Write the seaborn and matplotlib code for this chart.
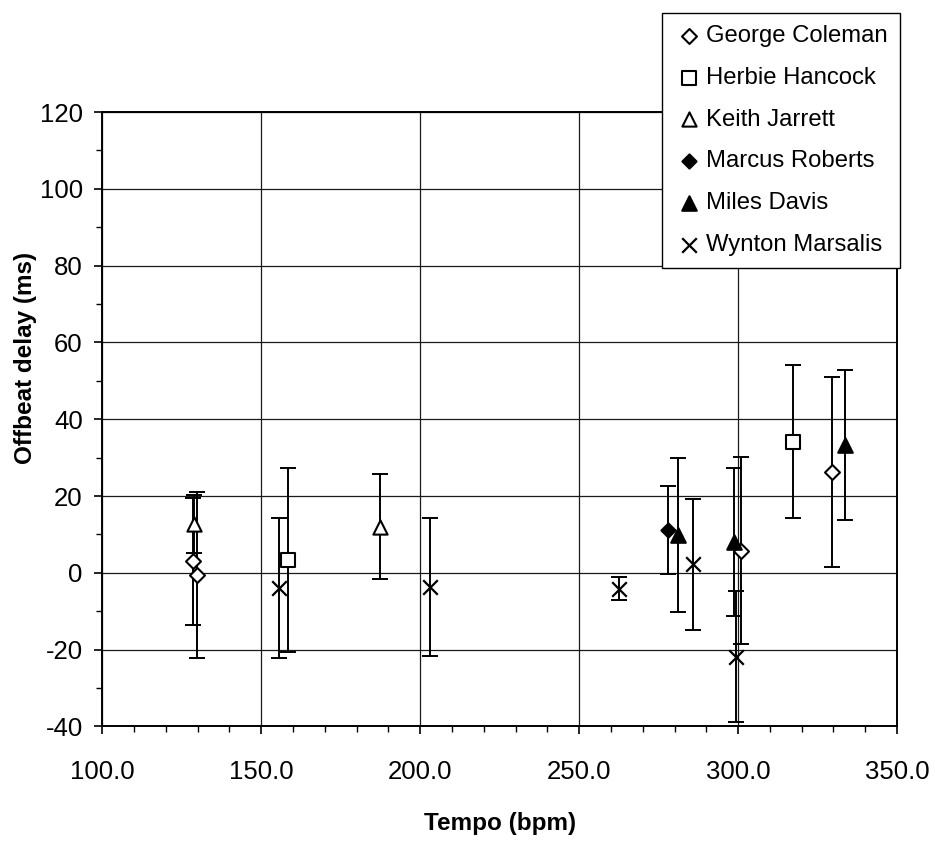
import numpy as np
import pandas as pd
import matplotlib
matplotlib.use("Agg")
import matplotlib.pyplot as plt
from matplotlib.ticker import MultipleLocator, FormatStrFormatter
import seaborn as sns

# Offbeat delay (mean ± SD) per recording, by performer
performer = [
    "George Coleman", "George Coleman", "George Coleman", "George Coleman",
    "Herbie Hancock", "Herbie Hancock",
    "Keith Jarrett", "Keith Jarrett",
    "Marcus Roberts",
    "Miles Davis", "Miles Davis", "Miles Davis",
    "Wynton Marsalis", "Wynton Marsalis", "Wynton Marsalis",
    "Wynton Marsalis", "Wynton Marsalis",
]
tempo = [128.4, 129.8, 301.0, 329.6,
         158.3, 317.3,
         128.9, 187.3,
         277.8,
         281.1, 298.6, 333.6,
         155.6, 203.0, 262.6, 285.8, 299.2]
delay = [3.0, -0.5, 5.8, 26.3,
         3.3, 34.2,
         12.7, 12.0,
         11.2,
         9.8, 8.0, 33.3,
         -3.9, -3.6, -4.1, 2.2, -21.8]
sd = [16.5, 21.6, 24.4, 24.7,
      23.9, 19.9,
      7.5, 13.7,
      11.4,
      20.1, 19.3, 19.5,
      18.2, 18.0, 2.9, 17.0, 17.0]

performers = ["George Coleman", "Herbie Hancock", "Keith Jarrett",
              "Marcus Roberts", "Miles Davis", "Wynton Marsalis"]
x_ticks = [100, 150, 200, 250, 300, 350]
y_ticks = [-40, -20, 0, 20, 40, 60, 80, 100, 120]

df = pd.DataFrame({"performer": performer, "tempo": tempo,
                   "delay": delay, "sd": sd})

sns.set_theme(style="ticks")
plt.rcParams["font.family"] = ["Liberation Sans", "DejaVu Sans"]
plt.rcParams["axes.unicode_minus"] = False
plt.rcParams["text.color"] = "black"

fig = plt.figure(figsize=(9.35, 8.46), dpi=100)
ax = fig.add_axes([0.1094, 0.1413, 0.8500, 0.7263])

# error bars first, markers on top
ax.errorbar(df["tempo"], df["delay"], yerr=df["sd"], fmt="none",
            ecolor="black", elinewidth=1.4, capsize=5.5, capthick=1.4,
            zorder=2)

# marker, face colour, size (pt^2)
marker_style = {
    "George Coleman": ("D", "white", 58),
    "Herbie Hancock": ("s", "white", 115),
    "Keith Jarrett": ("^", "white", 105),
    "Marcus Roberts": ("D", "black", 52),
    "Miles Davis": ("^", "black", 110),
    "Wynton Marsalis": ("x", "black", 110),
}

for name in performers:
    sub = df[df["performer"] == name]
    m, fc, s = marker_style[name]
    if m == "x":
        sns.scatterplot(data=sub, x="tempo", y="delay", marker=m,
                        color="black", s=s, linewidth=1.6, label=name,
                        ax=ax, zorder=3, legend=False)
    else:
        sns.scatterplot(data=sub, x="tempo", y="delay", marker=m,
                        color=fc, edgecolor="black", s=s, linewidth=1.5,
                        label=name, ax=ax, zorder=3, legend=False)

ax.set_xlim(100, 350)
ax.set_ylim(-40, 120)
ax.set_xticks(x_ticks)
ax.set_yticks(y_ticks)
ax.xaxis.set_minor_locator(MultipleLocator(10))
ax.yaxis.set_minor_locator(MultipleLocator(10))
ax.xaxis.set_major_formatter(FormatStrFormatter("%.1f"))
ax.yaxis.set_major_formatter(FormatStrFormatter("%d"))

ax.grid(True, which="major", color="#1a1a1a", linewidth=0.9)
ax.set_axisbelow(True)

for side in ["left", "bottom", "right", "top"]:
    ax.spines[side].set_visible(True)
    ax.spines[side].set_color("black")
    ax.spines[side].set_linewidth(1.4)

ax.tick_params(axis="both", which="major", direction="out", length=6,
               width=1.2, color="black", labelsize=18.5, labelcolor="black")
ax.tick_params(axis="both", which="minor", direction="out", length=4.5,
               width=1.0, color="black")
ax.tick_params(axis="x", which="major", pad=18)
ax.tick_params(axis="y", which="major", pad=8)

ax.set_xlabel("Tempo (bpm)", fontsize=17.5, fontweight="bold",
              color="black", labelpad=20)
ax.set_ylabel("Offbeat delay (ms)", fontsize=17.5, fontweight="bold",
              color="black")
ax.yaxis.set_label_coords(-0.082, 0.60)

handles, labels = ax.get_legend_handles_labels()
leg = fig.legend(handles, labels, loc="upper left",
                 bbox_to_anchor=(662 / 935, 1 - 13 / 846),
                 frameon=True, fancybox=False, edgecolor="black",
                 facecolor="white", framealpha=1, fontsize=17.2,
                 scatterpoints=1, borderpad=0.5, labelspacing=0.83,
                 handlelength=1.3, handletextpad=0.05, borderaxespad=0)
for t in leg.get_texts():
    t.set_color("black")

fig.savefig("out.png", dpi=100, facecolor="white")
